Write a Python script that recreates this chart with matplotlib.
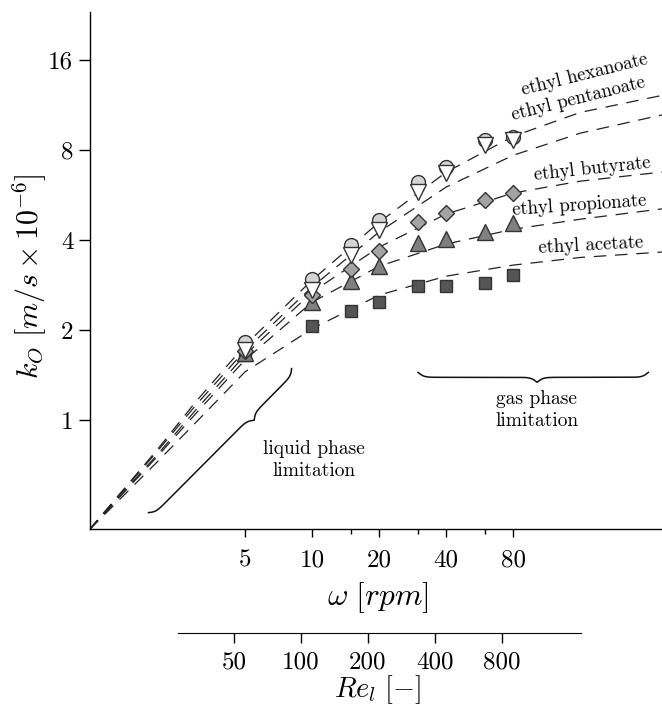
import numpy as np
import matplotlib
matplotlib.use('Agg')
import matplotlib.pyplot as plt
from matplotlib.lines import Line2D
from matplotlib.transforms import IdentityTransform

plt.rcParams['font.family'] = 'serif'
plt.rcParams['font.serif'] = ['cmr10']
plt.rcParams['mathtext.fontset'] = 'cm'
plt.rcParams['axes.formatter.use_mathtext'] = True

# measured mass transfer coefficients (k_O, m/s x 1e-6) vs rotation speed
omega = [5, 10, 15, 20, 30, 40, 60, 80]
k_acetate = [1.65, 2.06, 2.32, 2.48, 2.81, 2.81, 2.87, 3.05]
k_propionate = [1.68, 2.48, 2.92, 3.27, 3.91, 4.03, 4.26, 4.56]
k_butyrate = [1.70, 2.62, 3.20, 3.68, 4.59, 4.92, 5.44, 5.75]
k_pentanoate = [1.72, 2.72, 3.57, 4.32, 5.79, 6.70, 8.34, 8.65]
k_hexanoate = [1.82, 2.96, 3.85, 4.67, 6.25, 7.02, 8.65, 8.84]

# fitted model curves (dashed)
omega_fit = [1, 2, 3, 5, 10, 20, 40, 80, 160, 373]
fit_acetate = [0.43, 0.72, 0.98, 1.45, 2.02, 2.62, 3.03, 3.30, 3.50, 3.65]
fit_propionate = [0.43, 0.75, 1.05, 1.59, 2.48, 3.27, 3.88, 4.35, 4.70, 5.09]
fit_butyrate = [0.43, 0.76, 1.08, 1.65, 2.68, 3.79, 4.89, 5.75, 6.30, 6.76]
fit_pentanoate = [0.43, 0.78, 1.12, 1.71, 2.79, 4.26, 6.02, 7.69, 9.12, 10.5]
fit_hexanoate = [0.43, 0.79, 1.15, 1.78, 2.94, 4.59, 6.75, 8.9, 10.7, 12.2]

x_ticks = [5, 10, 20, 40, 80]
x_minor = [15, 30, 60]
y_ticks = [1, 2, 4, 8, 16]
re_ticks = [50, 100, 200, 400, 800]

fig = plt.figure(figsize=(6.62, 7.08), dpi=100)
W, H = 662, 708
ax = fig.add_axes([90 / W, 1 - 529 / H, (662 - 90) / W, (529 - 12) / H])
ax.set_xscale('log', base=2)
ax.set_yscale('log', base=2)
ax.set_xlim(1.006, 373)
ax.set_ylim(0.432, 23.2)

# dashed fits
for fit in [fit_acetate, fit_propionate, fit_butyrate, fit_pentanoate, fit_hexanoate]:
    ax.plot(omega_fit, fit, color='#222222', lw=0.9, ls=(0, (10, 7)), zorder=2)

ec = '#333333'
ax.plot(omega, k_acetate, 's', ms=9, mfc='#555555', mec=ec, mew=1, zorder=3)
ax.plot(omega, k_propionate, '^', ms=11, mfc='#808080', mec=ec, mew=1, zorder=4)
ax.plot(omega, k_butyrate, 'D', ms=8.5, mfc='#a3a3a3', mec=ec, mew=1, zorder=5)
ax.plot(omega, k_hexanoate, 'o', ms=10, mfc='#d4d4d4', mec=ec, mew=1, zorder=6)
ax.plot(omega, k_pentanoate, 'v', ms=11, mfc='white', mec=ec, mew=1, zorder=7)

# curve labels
lab_kw = dict(fontsize=13.5, ha='left', va='baseline', rotation_mode='anchor')
ax.text(88.9, 12.2, 'ethyl hexanoate', rotation=14, **lab_kw)
ax.text(80, 10.08, 'ethyl pentanoate', rotation=14, **lab_kw)
ax.text(99.6, 6.35, 'ethyl butyrate', rotation=6, **lab_kw)
ax.text(80, 4.86, 'ethyl propionate', rotation=4, **lab_kw)
ax.text(104.4, 3.62, 'ethyl acetate', rotation=3, **lab_kw)

ax.text(10.2, 0.735, 'liquid phase\nlimitation', fontsize=14, ha='center', va='center',
        linespacing=1.35)
ax.text(102, 1.08, 'gas phase\nlimitation', fontsize=14, ha='center', va='center',
        linespacing=1.35)

# axes styling
for sp in ['top', 'right']:
    ax.spines[sp].set_visible(False)
for sp in ['left', 'bottom']:
    ax.spines[sp].set_linewidth(1.0)
ax.set_xticks(x_ticks)
ax.set_xticklabels([str(v) for v in x_ticks])
ax.set_xticks(x_minor, minor=True)
ax.set_xticklabels([], minor=True)
ax.set_yticks(y_ticks)
ax.set_yticklabels([str(v) for v in y_ticks])
ax.yaxis.set_minor_locator(matplotlib.ticker.NullLocator())
ax.tick_params(axis='x', which='major', direction='out', length=6, width=1, pad=9, labelsize=18)
ax.tick_params(axis='x', which='minor', direction='out', length=3.5, width=1)
ax.tick_params(axis='y', which='major', direction='out', length=8, width=1, pad=4, labelsize=18)

# secondary Reynolds axis
ax2 = fig.add_axes([178 / W, 1 - 633 / H, (581 - 178) / W, 0.0001])
ax2.set_xscale('log', base=2)
ax2.set_xlim(28.0, 1815)
ax2.patch.set_visible(False)
for sp in ['top', 'left', 'right']:
    ax2.spines[sp].set_visible(False)
ax2.set_yticks([])
ax2.set_xticks(re_ticks)
ax2.set_xticklabels([str(v) for v in re_ticks])
ax2.xaxis.set_minor_locator(matplotlib.ticker.NullLocator())
ax2.tick_params(axis='x', direction='out', length=7, width=1, pad=6, labelsize=18)

fig.text(30 / W, 1 - 276 / H, r'$k_O\ [m/s \times 10^{-6}]$', fontsize=21.5,
         rotation=90, ha='center', va='center')
fig.text(378 / W, 1 - 598 / H, r'$\omega\ [rpm]$', fontsize=22.5, ha='center', va='center')
fig.text(378 / W, 1 - 690 / H, r'$Re_l\ [-]$', fontsize=20.5, ha='center', va='center')


def brace(p1, p2, frac, depth, w=3.0):
    # curly brace between two data points, cusp at frac of the length
    a = ax.transData.transform(p1)
    b = ax.transData.transform(p2)
    d = b - a
    L = np.hypot(*d)
    u = d / L
    n = np.array([u[1], -u[0]])
    s = np.linspace(0, L, 600)
    sc = frac * L
    sig = lambda t: 1 / (1 + np.exp(-t / w))
    amp = np.where(s <= sc, sig(s) + sig(s - sc), sig(L - s) + sig(sc - s))
    h = depth * (amp - 1)
    pts = a + s[:, None] * u + h[:, None] * n
    fig.add_artist(Line2D(pts[:, 0], pts[:, 1], transform=IdentityTransform(),
                          color='#111111', lw=1.1))


brace((1.91, 0.477), (8.39, 1.447), 0.69, 10)
brace((29.9, 1.39), (324, 1.39), 0.517, 10)

fig.savefig('out.png', dpi=100)
